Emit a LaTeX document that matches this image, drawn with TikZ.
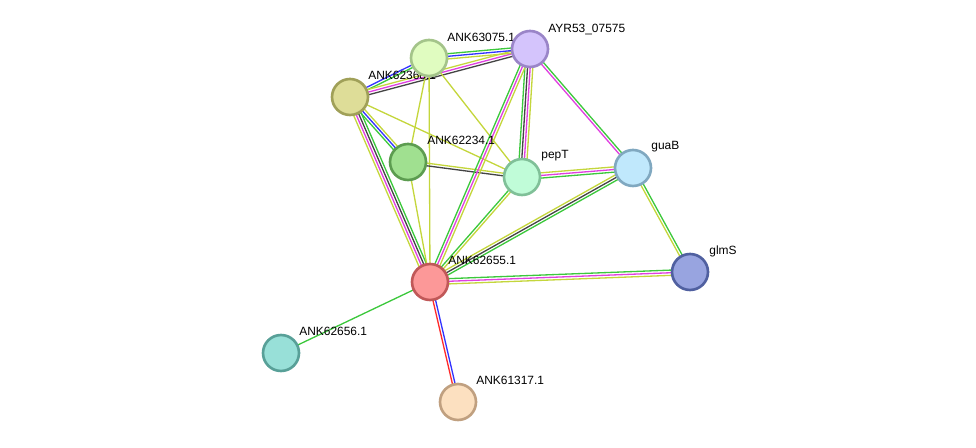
\documentclass[tikz,border=0pt]{standalone}
\usepackage{fontspec}
\setmainfont{Liberation Sans}
\usepackage{tikz}
\usetikzlibrary{calc,backgrounds}

\definecolor{cgreen}{HTML}{3CC83C}
\definecolor{cblue}{HTML}{3333FF}
\definecolor{cyel}{HTML}{C4D63C}
\definecolor{cmag}{HTML}{E040E0}
\definecolor{cdark}{HTML}{444444}
\definecolor{cred}{HTML}{FF2A2A}

\pgfdeclarelayer{edges}
\pgfdeclarelayer{labels}
\pgfsetlayers{edges,labels,main}

% one evidence line per colour, offset sideways from the centre line
\newcommand{\strlink}[3]{%
  \foreach \c/\o in {#3}{%
    \pgfmathsetmacro\d{\o*1.5}%
    \draw[\c, evline] ($(#1)!\d pt!90:(#2)$) -- ($(#2)!\d pt!-90:(#1)$);
  }%
}

\begin{document}
\begin{tikzpicture}[
  x=0.02cm, y=-0.02cm,
  prot/.style={circle, minimum size=0.72cm, inner sep=0, line width=1.5pt},
  evline/.style={line width=0.75pt},
  lbl/.style={anchor=base west, inner sep=0, font=\fontsize{6.8}{8}\selectfont}
]
\useasboundingbox (0,0) rectangle (976,448);

\node[prot, fill={rgb,255:red,224;green,252;blue,192}, draw={rgb,255:red,164;green,196;blue,138}] (s63075) at (429,58) {};
\node[prot, fill={rgb,255:red,212;green,196;blue,252}, draw={rgb,255:red,154;green,133;blue,200}] (ayr) at (530,49) {};
\node[prot, fill={rgb,255:red,222;green,221;blue,152}, draw={rgb,255:red,160;green,160;blue,88}] (s62368) at (350,97) {};
\node[prot, fill={rgb,255:red,160;green,224;blue,144}, draw={rgb,255:red,92;green,156;blue,80}] (s62234) at (408,162) {};
\node[prot, fill={rgb,255:red,192;green,252;blue,216}, draw={rgb,255:red,128;green,192;blue,152}] (pept) at (522,177) {};
\node[prot, fill={rgb,255:red,192;green,232;blue,252}, draw={rgb,255:red,128;green,168;blue,192}] (guab) at (633,168) {};
\node[prot, fill={rgb,255:red,152;green,164;blue,224}, draw={rgb,255:red,80;green,96;blue,160}] (glms) at (690,272) {};
\node[prot, fill={rgb,255:red,252;green,152;blue,152}, draw={rgb,255:red,192;green,88;blue,88}] (s62655) at (430,282) {};
\node[prot, fill={rgb,255:red,152;green,224;blue,216}, draw={rgb,255:red,88;green,160;blue,152}] (s62656) at (281,353) {};
\node[prot, fill={rgb,255:red,252;green,224;blue,192}, draw={rgb,255:red,192;green,160;blue,128}] (s61317) at (458,402) {};

\begin{pgfonlayer}{labels}
\node[lbl] (l63075) at ([shift={(18,-16)}]s63075.center) {ANK63075.1};
\node[lbl] (layr) at ([shift={(18,-16)}]ayr.center) {AYR53\_07575};
\node[lbl] (l62368) at ([shift={(18,-17)}]s62368.center) {ANK62368.1};
\node[lbl] (l62234) at ([shift={(19,-17)}]s62234.center) {ANK62234.1};
\node[lbl] (lpept) at ([shift={(19,-18)}]pept.center) {pepT};
\node[lbl] (lguab) at ([shift={(18,-18)}]guab.center) {guaB};
\node[lbl] (lglms) at ([shift={(19,-17)}]glms.center) {glmS};
\node[lbl] (l62655) at ([shift={(18,-17)}]s62655.center) {ANK62655.1};
\node[lbl] (l62656) at ([shift={(18,-17)}]s62656.center) {ANK62656.1};
\node[lbl] (l61317) at ([shift={(18,-17)}]s61317.center) {ANK61317.1};
\end{pgfonlayer}

\begin{pgfonlayer}{edges}
\strlink{s62368}{s63075}{cgreen/-0.5, cblue/0.5}
\strlink{s62368}{ayr}{cdark/-1, cmag/0, cyel/1}
\strlink{s63075}{ayr}{cyel/-1, cblue/0, cgreen/1}
\strlink{s62368}{s62234}{cgreen/-1, cblue/0, cyel/1}
\strlink{s62368}{s62655}{cyel/-1.5, cmag/-0.5, cdark/0.5, cgreen/1.5}
\strlink{s62368}{pept}{cyel/0}
\strlink{s63075}{s62234}{cyel/0}
\strlink{s63075}{s62655}{cyel/0}
\strlink{s63075}{pept}{cyel/0}
\strlink{s62234}{pept}{cdark/-0.5, cyel/0.5}
\strlink{s62234}{s62655}{cyel/0}
\strlink{ayr}{pept}{cgreen/-1.5, cdark/-0.5, cmag/0.5, cyel/1.5}
\strlink{ayr}{s62655}{cgreen/-1, cmag/0, cyel/1}
\strlink{ayr}{guab}{cmag/-0.5, cgreen/0.5}
\strlink{pept}{guab}{cgreen/-1, cmag/0, cyel/1}
\strlink{pept}{s62655}{cgreen/-0.5, cyel/0.5}
\strlink{guab}{s62655}{cyel/-1, cdark/0, cgreen/1}
\strlink{guab}{glms}{cyel/-0.5, cgreen/0.5}
\strlink{s62655}{glms}{cyel/-1, cmag/0, cgreen/1}
\strlink{s62655}{s62656}{cgreen/0}
\strlink{s62655}{s61317}{cred/-0.5, cblue/0.5}
\end{pgfonlayer}

\end{tikzpicture}
\end{document}
